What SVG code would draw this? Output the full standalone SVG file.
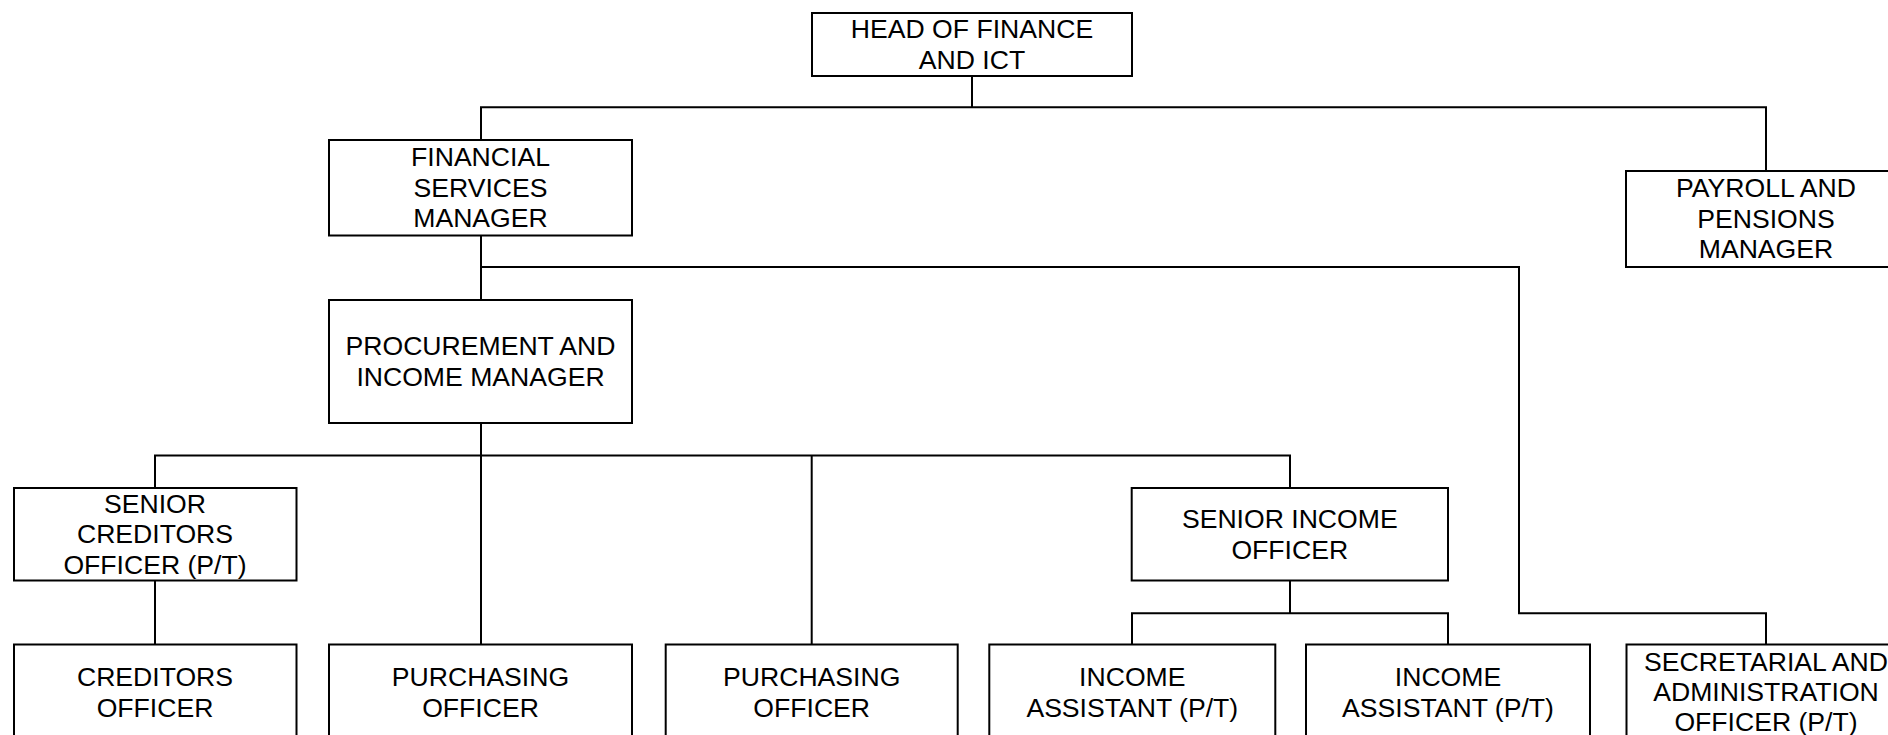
<svg xmlns="http://www.w3.org/2000/svg" width="1888" height="735" viewBox="0 0 1888 735">
<style>
.box{fill:#fff;stroke:#000;stroke-width:2}
.lbl{font-family:"Liberation Sans",Arial,sans-serif;font-size:26.6px;fill:#000;text-anchor:middle}
.con{fill:none;stroke:#000;stroke-width:2}
</style>
<rect width="1888" height="735" fill="#fff"/>
<g id="connectors">
<path class="con" d="M972,76V107.3M481,140V107.3H1766V171"/>
<path class="con" d="M481,235.5V300M481,267H1519V613.3H1766V644.5"/>
<path class="con" d="M481,423V455.5M155,488V455.5H1290V488M481,455.5V644.5M811.7,455.5V644.5"/>
<path class="con" d="M155,580.5V644.5"/>
<path class="con" d="M1290,580.5V613.3M1132,644.5V613.3H1448V644.5"/>
</g>
<g id="head">
<rect class="box" x="812" y="13" width="320" height="63"/>
<text class="lbl" x="972" y="38">HEAD OF FINANCE</text>
<text class="lbl" x="972" y="68.7">AND ICT</text>
</g>
<g id="fsm">
<rect class="box" x="329" y="140" width="303" height="95.5"/>
<text class="lbl" x="480.5" y="166">FINANCIAL</text>
<text class="lbl" x="480.5" y="196.6">SERVICES</text>
<text class="lbl" x="480.5" y="227.2">MANAGER</text>
</g>
<g id="payroll">
<rect class="box" x="1626" y="171" width="280" height="96"/>
<text class="lbl" x="1766" y="197">PAYROLL AND</text>
<text class="lbl" x="1766" y="227.6">PENSIONS</text>
<text class="lbl" x="1766" y="258.2">MANAGER</text>
</g>
<g id="pim">
<rect class="box" x="329" y="300" width="303" height="123"/>
<text class="lbl" x="480.5" y="355">PROCUREMENT AND</text>
<text class="lbl" x="480.5" y="385.6">INCOME MANAGER</text>
</g>
<g id="senior-creditors">
<rect class="box" x="14" y="488" width="282.5" height="92.5"/>
<text class="lbl" x="155" y="512.6">SENIOR</text>
<text class="lbl" x="155" y="543.2">CREDITORS</text>
<text class="lbl" x="155" y="573.8">OFFICER (P/T)</text>
</g>
<g id="senior-income">
<rect class="box" x="1131.7" y="488" width="316.3" height="92.5"/>
<text class="lbl" x="1289.8" y="527.9">SENIOR INCOME</text>
<text class="lbl" x="1289.8" y="558.5">OFFICER</text>
</g>
<g id="creditors-officer">
<rect class="box" x="14" y="644.5" width="282.5" height="95"/>
<text class="lbl" x="155" y="686">CREDITORS</text>
<text class="lbl" x="155" y="716.6">OFFICER</text>
</g>
<g id="purchasing-officer-1">
<rect class="box" x="329" y="644.5" width="303" height="95"/>
<text class="lbl" x="480.5" y="686">PURCHASING</text>
<text class="lbl" x="480.5" y="716.6">OFFICER</text>
</g>
<g id="purchasing-officer-2">
<rect class="box" x="665.7" y="644.5" width="292" height="95"/>
<text class="lbl" x="811.7" y="686">PURCHASING</text>
<text class="lbl" x="811.7" y="716.6">OFFICER</text>
</g>
<g id="income-assistant-1">
<rect class="box" x="989.3" y="644.5" width="286" height="95"/>
<text class="lbl" x="1132.3" y="686">INCOME</text>
<text class="lbl" x="1132.3" y="716.6">ASSISTANT (P/T)</text>
</g>
<g id="income-assistant-2">
<rect class="box" x="1306" y="644.5" width="284" height="95"/>
<text class="lbl" x="1448" y="686">INCOME</text>
<text class="lbl" x="1448" y="716.6">ASSISTANT (P/T)</text>
</g>
<g id="secretarial">
<rect class="box" x="1626.5" y="644.5" width="280" height="95"/>
<text class="lbl" x="1766" y="670.5">SECRETARIAL AND</text>
<text class="lbl" x="1766" y="700.5">ADMINISTRATION</text>
<text class="lbl" x="1766" y="730.5">OFFICER (P/T)</text>
</g>
</svg>
